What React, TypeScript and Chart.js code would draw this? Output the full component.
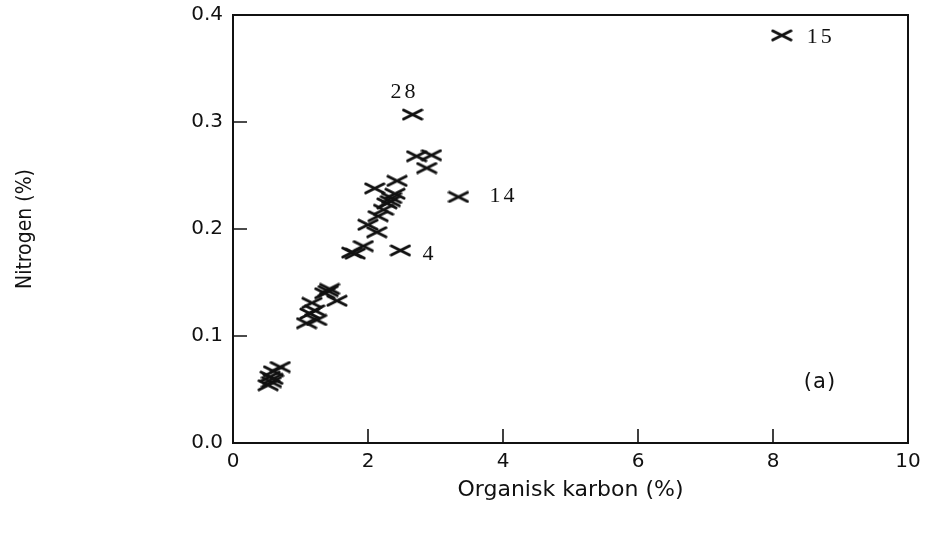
import React, { useEffect, useRef } from 'react';
import { Chart, registerables } from 'chart.js';

Chart.register(...registerables);

// Organic carbon (%) per sample
const carbonValues = [
  2.66, 2.72, 2.94, 2.87, 3.34, 2.43, 2.1, 2.4, 2.35, 2.28, 2.23, 2.15, 2.0, 2.13,
  1.93, 1.76, 1.81, 2.48, 1.41, 1.36, 1.54, 1.17, 1.21, 1.14, 1.24, 1.09, 0.7, 0.6,
  0.55, 0.57, 0.52, 8.13, 2.33, 1.43, 0.59,
];
// Nitrogen (%) per sample
const nitrogenValues = [
  0.307, 0.268, 0.269, 0.257, 0.23, 0.245, 0.238, 0.233, 0.229, 0.224, 0.218, 0.212,
  0.204, 0.197, 0.184, 0.178, 0.177, 0.18, 0.142, 0.14, 0.133, 0.131, 0.124, 0.121,
  0.115, 0.112, 0.071, 0.067, 0.062, 0.057, 0.054, 0.381, 0.226, 0.144, 0.06,
];
// sample numbers written beside some points
const pointTags = [
  '28', '', '', '', '14', '', '', '', '', '', '', '', '', '', '', '', '', '4', '', '',
  '', '', '', '', '', '', '', '', '', '', '', '15', '', '', '',
];
const xTickValues = [0, 2, 4, 6, 8, 10];
const yTickValues = [0, 0.1, 0.2, 0.3, 0.4];
const xAxisTitle = 'Organisk karbon (%)';
const yAxisTitle = 'Nitrogen (%)';
const panelLabel = '(a)';

const INK = '#111';

function makeCross(): HTMLCanvasElement {
  const c = document.createElement('canvas');
  c.width = 22;
  c.height = 13;
  const g = c.getContext('2d')!;
  g.strokeStyle = INK;
  g.lineWidth = 3;
  g.lineCap = 'round';
  g.beginPath();
  g.moveTo(2, 2);
  g.lineTo(20, 11);
  g.moveTo(2, 11);
  g.lineTo(20, 2);
  g.stroke();
  return c;
}

const framePlugin = {
  id: 'frameAndTags',
  beforeDatasetsDraw(chart: any) {
    const { ctx, chartArea: a, scales } = chart;
    ctx.save();
    ctx.strokeStyle = INK;
    ctx.lineWidth = 2;
    ctx.strokeRect(a.left, a.top, a.right - a.left, a.bottom - a.top);
    ctx.lineWidth = 1.6;
    ctx.beginPath();
    xTickValues.slice(1, -1).forEach((v) => {
      const x = scales.x.getPixelForValue(v);
      ctx.moveTo(x, a.bottom);
      ctx.lineTo(x, a.bottom - 14);
    });
    yTickValues.slice(1, -1).forEach((v) => {
      const y = scales.y.getPixelForValue(v);
      ctx.moveTo(a.left, y);
      ctx.lineTo(a.left + 14, y);
    });
    ctx.stroke();
    ctx.restore();
  },
  afterDatasetsDraw(chart: any) {
    const { ctx, chartArea: a, scales } = chart;
    const offsets: Record<string, [number, number, CanvasTextAlign]> = {
      '28': [-8, -22, 'center'],
      '14': [31, -1, 'left'],
      '4': [22, 4, 'left'],
      '15': [25, 2, 'left'],
    };
    ctx.save();
    ctx.fillStyle = INK;
    ctx.textBaseline = 'middle';
    ctx.font = '22px "Liberation Serif", serif';
    (ctx as any).letterSpacing = '3px';
    pointTags.forEach((tag, i) => {
      if (!tag) return;
      const [dx, dy, align] = offsets[tag] || [20, 0, 'left'];
      ctx.textAlign = align;
      ctx.fillText(
        tag,
        scales.x.getPixelForValue(carbonValues[i]) + dx,
        scales.y.getPixelForValue(nitrogenValues[i]) + dy
      );
    });
    (ctx as any).letterSpacing = '1px';
    ctx.font = '21px "DejaVu Sans", sans-serif';
    ctx.textAlign = 'center';
    ctx.fillText(panelLabel, a.right - 88, a.bottom - 60);
    ctx.restore();
  },
};

export default function App() {
  const ref = useRef<HTMLCanvasElement>(null);

  useEffect(() => {
    if (!ref.current) return;
    const points = carbonValues.map((x, i) => ({ x, y: nitrogenValues[i] }));
    const chart = new Chart(ref.current, {
      type: 'scatter',
      data: {
        datasets: [
          {
            data: points,
            pointStyle: makeCross() as any,
            pointRadius: 7,
            borderColor: INK,
            backgroundColor: INK,
          },
        ],
      },
      options: {
        animation: false,
        responsive: false,
        devicePixelRatio: 1,
        layout: { padding: { left: 0, top: 15, right: 25, bottom: 0 } },
        plugins: { legend: { display: false }, tooltip: { enabled: false } },
        scales: {
          x: {
            type: 'linear',
            min: 0,
            max: 10,
            afterFit: (s: any) => {
              s.height = 91;
            },
            afterBuildTicks: (s: any) => {
              s.ticks = xTickValues.map((v) => ({ value: v }));
            },
            grid: { display: false, drawTicks: false },
            border: { display: false },
            ticks: {
              padding: 7,
              color: INK,
              font: { family: '"DejaVu Sans", sans-serif', size: 20 },
              callback: (v: any) => String(v),
            },
            title: {
              display: true,
              text: xAxisTitle,
              color: INK,
              font: { family: '"DejaVu Sans", sans-serif', size: 22 },
              padding: { top: 0, bottom: 31 },
            },
          },
          y: {
            type: 'linear',
            min: 0,
            max: 0.4,
            afterFit: (s: any) => {
              s.width = 233;
              s.paddingTop = 0;
              s.paddingBottom = 0;
            },
            afterBuildTicks: (s: any) => {
              s.ticks = yTickValues.map((v) => ({ value: v }));
            },
            grid: { display: false, drawTicks: false },
            border: { display: false },
            ticks: {
              padding: 10,
              color: INK,
              font: { family: '"DejaVu Sans", sans-serif', size: 20 },
              callback: (v: any) => Number(v).toFixed(1),
            },
            title: {
              display: true,
              text: yAxisTitle,
              color: INK,
              font: { family: '"DejaVu Sans Condensed", "DejaVu Sans", sans-serif', size: 21 },
              padding: { top: 13, bottom: 0 },
            },
          },
        },
      },
      plugins: [framePlugin],
    });
    return () => chart.destroy();
  }, []);

  return (
    <div style={{ position: 'absolute', left: 0, top: 0, width: 933, height: 534, background: '#fff' }}>
      <canvas ref={ref} width={933} height={534} />
    </div>
  );
}
